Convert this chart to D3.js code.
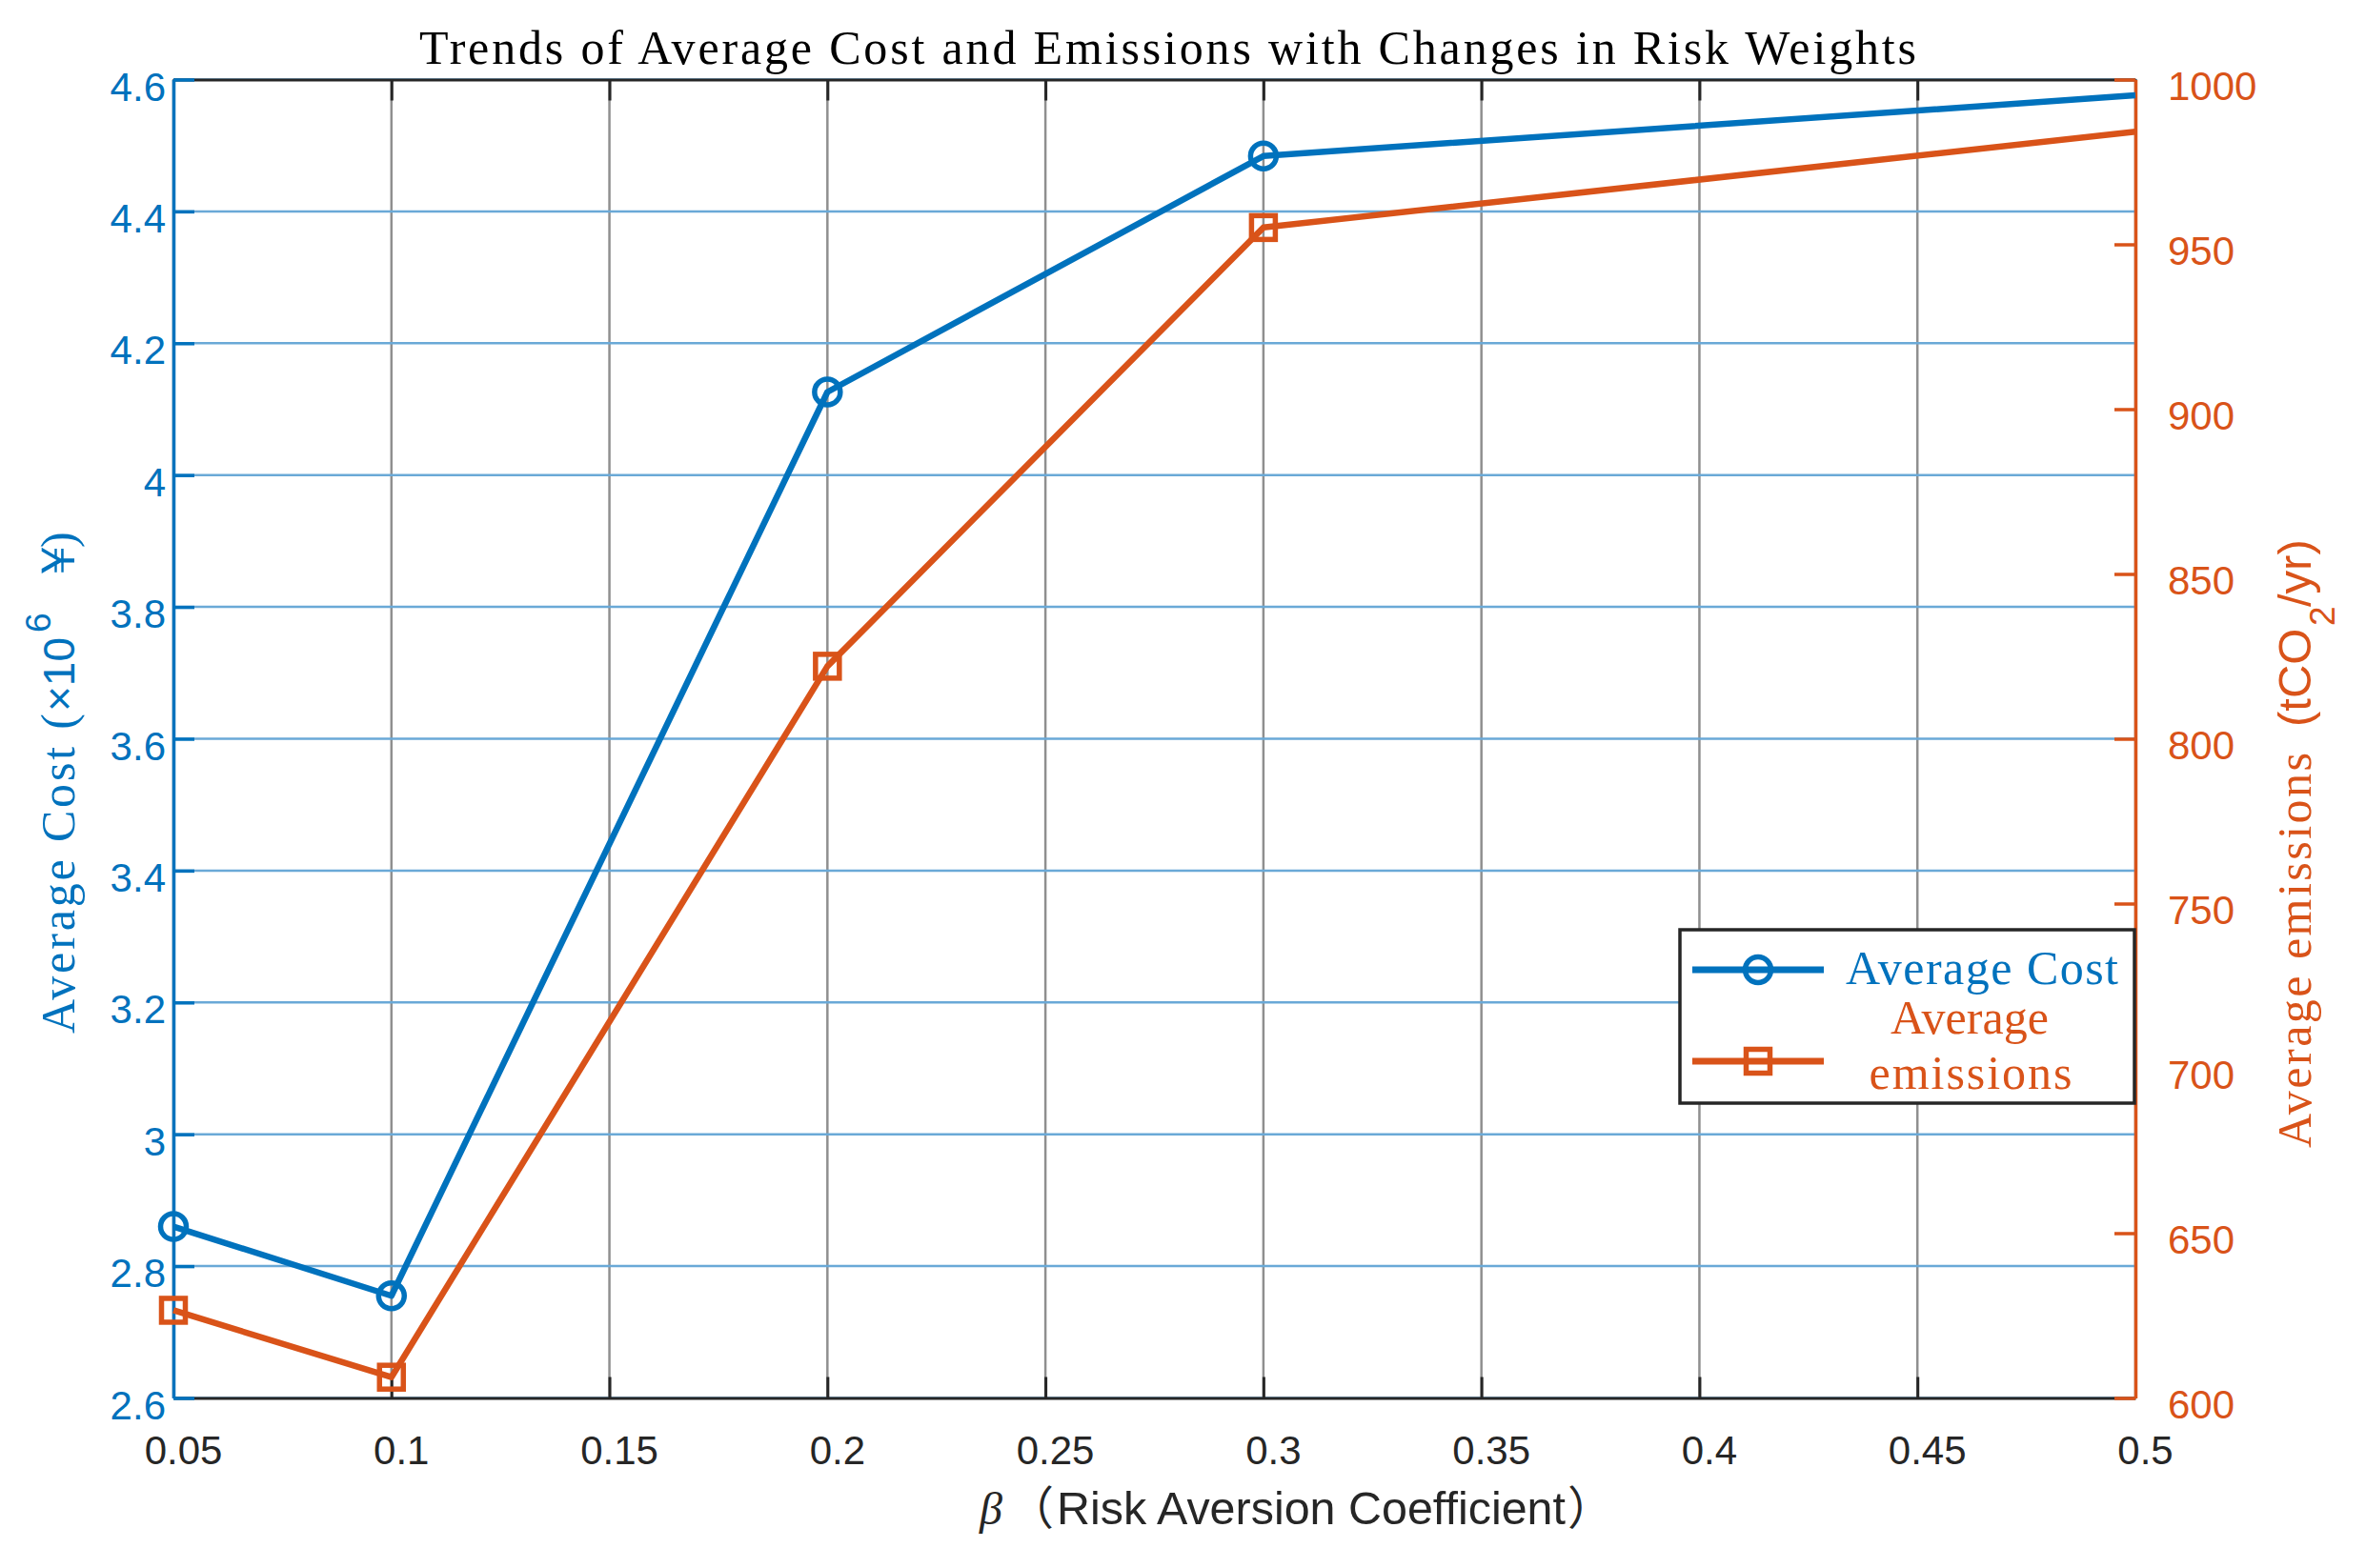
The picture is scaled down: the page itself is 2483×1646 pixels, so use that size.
<!DOCTYPE html>
<html><head><meta charset="utf-8">
<script src="https://cdn.jsdelivr.net/npm/d3@7"></script>
<style>body{margin:0;background:#fff} svg{display:block}</style>
</head><body><svg id="c" width="2483" height="1646"></svg>
<script>
// ---- data ----
const beta = [0.05, 0.1, 0.2, 0.3, 0.5];
const avgCost = [2.86, 2.755, 4.126, 4.484, 4.576];
const avgEmissions = [626.6, 606.3, 822.0, 955.1, 984.2];
const xTicks = [0.05, 0.1, 0.15, 0.2, 0.25, 0.3, 0.35, 0.4, 0.45, 0.5];
const costTicks = [2.6, 2.8, 3, 3.2, 3.4, 3.6, 3.8, 4, 4.2, 4.4, 4.6];
const emisTicks = [600, 650, 700, 750, 800, 850, 900, 950, 1000];
const seriesNames = ["Average Cost", "Average emissions"];
const titleText = "Trends of Average Cost and Emissions with Changes in Risk Weights";

// ---- layout / style ----
const L = 182, R = 2241, T = 83.5, B = 1467.5;
const BLUE = "#0072BD", ORANGE = "#D95319", DARK = "#262626";
const SERIF = "'Liberation Serif','DejaVu Serif',serif";
const SANS = "'Liberation Sans',Arial,sans-serif";
const CJK = "'Noto Sans CJK SC',sans-serif";

const svg = d3.select("#c");
const x = d3.scaleLinear().domain([0.05, 0.5]).range([L, R]);
const yL = d3.scaleLinear().domain([2.6, 4.6]).range([B, T]);
const yR = d3.scaleLinear().domain([600, 1000]).range([B, T]);

// grid
const grid = svg.append("g");
grid.selectAll("line.v").data(xTicks).join("line")
  .attr("x1", d => x(d)).attr("x2", d => x(d)).attr("y1", T).attr("y2", B)
  .attr("stroke", "#8f8f8f").attr("stroke-width", 2.5);
grid.selectAll("line.h").data(costTicks).join("line")
  .attr("y1", d => yL(d)).attr("y2", d => yL(d)).attr("x1", L).attr("x2", R)
  .attr("stroke", "#6aa9d7").attr("stroke-width", 2.5);

// axes
function styleAxis(g, color, width) {
  g.select(".domain").attr("stroke", color).attr("stroke-width", width);
  g.selectAll(".tick line").attr("stroke", color).attr("stroke-width", width);
  g.selectAll(".tick text").attr("fill", color).attr("font-family", SANS).attr("font-size", 42);
}
const gTop = svg.append("g").attr("transform", `translate(0,${T})`)
  .call(d3.axisTop(x).tickValues(xTicks).tickSizeInner(-22).tickSizeOuter(0).tickFormat(""));
styleAxis(gTop, DARK, 3);
const gBot = svg.append("g").attr("transform", `translate(0,${B})`)
  .call(d3.axisBottom(x).tickValues(xTicks).tickSizeInner(-22).tickSizeOuter(0).tickFormat(d => String(d)));
styleAxis(gBot, DARK, 3);
gBot.selectAll(".tick text").attr("y", 69.5).attr("dy", 0).attr("x", 10);

const gLeft = svg.append("g").attr("transform", `translate(${L},0)`)
  .call(d3.axisLeft(yL).tickValues(costTicks).tickSizeInner(-22).tickSizeOuter(0).tickFormat(d => String(d)));
styleAxis(gLeft, BLUE, 3.5);
gLeft.selectAll(".tick text").attr("x", -8).attr("dy", 21.5).attr("text-anchor", "end");

const gRight = svg.append("g").attr("transform", `translate(${R},0)`)
  .call(d3.axisRight(yR).tickValues(emisTicks).tickSizeInner(-22).tickSizeOuter(0).tickFormat(d => String(d)));
styleAxis(gRight, ORANGE, 3.5);
gRight.selectAll(".tick text").attr("x", 34).attr("dy", 21).attr("text-anchor", "start");

// series
const costPts = beta.map((b, i) => [b, avgCost[i]]);
const emisPts = beta.map((b, i) => [b, avgEmissions[i]]);
const lineC = d3.line().x(d => x(d[0])).y(d => yL(d[1]));
const lineE = d3.line().x(d => x(d[0])).y(d => yR(d[1]));
svg.append("path").attr("d", lineE(emisPts)).attr("fill", "none")
  .attr("stroke", ORANGE).attr("stroke-width", 6.5).attr("stroke-linejoin", "round");
svg.append("path").attr("d", lineC(costPts)).attr("fill", "none")
  .attr("stroke", BLUE).attr("stroke-width", 6.5).attr("stroke-linejoin", "round");
// markers (the last point lies on the right axis edge where the reference shows no marker)
const inside = p => p[0] < x.domain()[1];
const S = 25;
svg.selectAll("rect.mk").data(emisPts.filter(inside)).join("rect")
  .attr("x", d => x(d[0]) - S / 2).attr("y", d => yR(d[1]) - S / 2)
  .attr("width", S).attr("height", S)
  .attr("fill", "none").attr("stroke", ORANGE).attr("stroke-width", 5.5);
svg.selectAll("circle.mk").data(costPts.filter(inside)).join("circle")
  .attr("cx", d => x(d[0])).attr("cy", d => yL(d[1])).attr("r", 13.5)
  .attr("fill", "none").attr("stroke", BLUE).attr("stroke-width", 5.5);

// title
svg.append("text").attr("x", 440).attr("y", 67)
  .attr("font-family", SERIF).attr("font-size", 50).attr("fill", "#000")
  .attr("textLength", 1571).attr("lengthAdjust", "spacing").text(titleText);

// x label
const xl = svg.append("text").attr("y", 1600).attr("fill", DARK).attr("font-size", 48);
xl.append("tspan").attr("x", 1028).attr("font-family", SERIF).attr("font-style", "italic").text("β");
xl.append("tspan").attr("x", 1058).attr("font-family", CJK).text("（");
xl.append("tspan").attr("x", 1109).attr("font-family", SANS)
  .attr("textLength", 534).attr("lengthAdjust", "spacingAndGlyphs").text("Risk Aversion Coefficient");
xl.append("tspan").attr("x", 1645).attr("font-family", CJK).text("）");

// left y label (rotated)
const yl = svg.append("text").attr("transform", "translate(78,0) rotate(-90)").attr("fill", BLUE);
yl.append("tspan").attr("x", -1085).attr("y", 0).attr("font-family", SERIF).attr("font-size", 50)
  .attr("textLength", 336).attr("lengthAdjust", "spacing").text("Average Cost (");
yl.append("tspan").attr("x", -747).attr("y", 0).attr("font-family", SANS).attr("font-size", 46).text("×10");
yl.append("tspan").attr("x", -664).attr("y", -25).attr("font-family", SANS).attr("font-size", 37).text("6");
yl.append("tspan").attr("x", -614).attr("y", 0).attr("font-family", SERIF).attr("font-size", 50).text("￥");
yl.append("tspan").attr("x", -575).attr("y", 0).attr("font-family", SERIF).attr("font-size", 50).text(")");

// right y label (rotated)
const yr = svg.append("text").attr("transform", "translate(2425,0) rotate(-90)").attr("fill", ORANGE);
yr.append("tspan").attr("x", -1205).attr("y", 0).attr("font-family", SERIF).attr("font-size", 50)
  .attr("textLength", 415).attr("lengthAdjust", "spacing").text("Average emissions");
yr.append("tspan").attr("x", -763).attr("y", 0).attr("font-family", SANS).attr("font-size", 49).text("(tCO");
yr.append("tspan").attr("x", -657).attr("y", 25).attr("font-family", SANS).attr("font-size", 37).text("2");
yr.append("tspan").attr("x", -637).attr("y", 0).attr("font-family", SANS).attr("font-size", 49).text("/yr)");

// legend
const lg = svg.append("g");
lg.append("rect").attr("x", 1763).attr("y", 976).attr("width", 477).attr("height", 182)
  .attr("fill", "#fff").attr("stroke", DARK).attr("stroke-width", 3.5);
const rowsY = [1018, 1114];
const colors = [BLUE, ORANGE];
rowsY.forEach((yy, i) => {
  lg.append("line").attr("x1", 1776).attr("x2", 1914).attr("y1", yy).attr("y2", yy)
    .attr("stroke", colors[i]).attr("stroke-width", 7);
});
lg.append("circle").attr("cx", 1845).attr("cy", rowsY[0]).attr("r", 13.5)
  .attr("fill", "none").attr("stroke", BLUE).attr("stroke-width", 5.5);
lg.append("rect").attr("x", 1845 - S / 2).attr("y", rowsY[1] - S / 2).attr("width", S).attr("height", S)
  .attr("fill", "none").attr("stroke", ORANGE).attr("stroke-width", 5.5);
lg.append("text").attr("x", 2080).attr("y", 1033).attr("text-anchor", "middle")
  .attr("font-family", SERIF).attr("font-size", 50).attr("fill", BLUE)
  .attr("textLength", 286).attr("lengthAdjust", "spacing").text(seriesNames[0]);
const parts = seriesNames[1].split(" ");
lg.append("text").attr("x", 2067).attr("y", 1085).attr("text-anchor", "middle")
  .attr("font-family", SERIF).attr("font-size", 50).attr("fill", ORANGE)
  .attr("textLength", 166).attr("lengthAdjust", "spacing").text(parts[0]);
lg.append("text").attr("x", 2068).attr("y", 1143).attr("text-anchor", "middle")
  .attr("font-family", SERIF).attr("font-size", 50).attr("fill", ORANGE)
  .attr("textLength", 213).attr("lengthAdjust", "spacing").text(parts[1]);
</script></body></html>
